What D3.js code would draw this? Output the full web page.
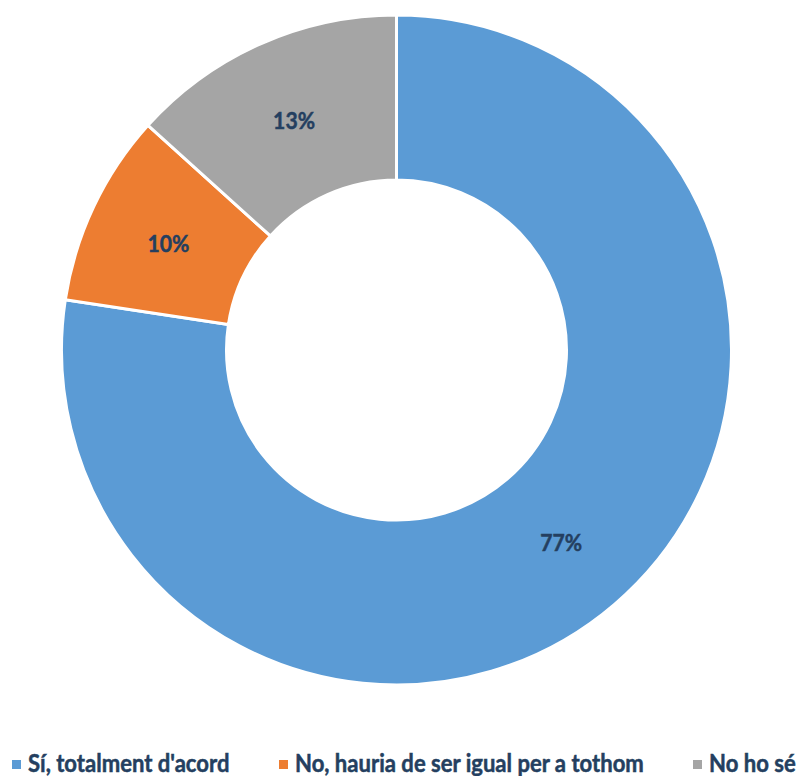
<!DOCTYPE html>
<html><head><meta charset="utf-8">
<script src="https://cdn.jsdelivr.net/npm/d3@7"></script>
<style>body{margin:0;background:#fff}svg{display:block}</style>
</head><body>
<svg id="c" width="800" height="776"></svg>
<script>
const categories = ["Sí, totalment d'acord", "No, hauria de ser igual per a tothom", "No ho sé"];
const values = [77.4, 9.3, 13.3];
const labels = ["77%", "10%", "13%"];
const colors = ["#5B9BD5", "#ED7D31", "#A5A5A5"];

const svg = d3.select("#c");
const cx = 396.5, cy = 350, rOut = 335, rIn = 170;
const textColor = "#243F60";
const font = "Lato, 'Open Sans', sans-serif";

const pie = d3.pie().sort(null).value(d => d)(values);
const arc = d3.arc().innerRadius(rIn).outerRadius(rOut);
const labelArc = d3.arc().innerRadius((rIn + rOut) / 2).outerRadius((rIn + rOut) / 2);

const g = svg.append("g").attr("transform", `translate(${cx},${cy})`);
g.selectAll("path").data(pie).join("path")
  .attr("d", arc)
  .attr("fill", (d, i) => colors[i])
  .attr("stroke", "#fff")
  .attr("stroke-width", 3);

g.selectAll("text").data(pie).join("text")
  .attr("transform", d => { const [x, y] = labelArc.centroid(d); return `translate(${x},${y + 1}) scale(0.9,1)`; })
  .attr("text-anchor", "middle")
  .attr("dominant-baseline", "central")
  .attr("font-family", font)
  .attr("font-weight", 700)
  .attr("font-size", 23.5)
  .attr("fill", textColor)
  .attr("stroke", textColor)
  .attr("stroke-width", 0.5)
  .text((d, i) => labels[i]);

// legend
const legX = [12, 279, 693];
const lg = svg.append("g");
categories.forEach((c, i) => {
  lg.append("rect").attr("x", legX[i]).attr("y", 760).attr("width", 9).attr("height", 9).attr("fill", colors[i]);
  lg.append("text").attr("transform", `translate(${legX[i] + 16},772) scale(0.92,1)`)
    .attr("font-family", font).attr("font-weight", 700).attr("font-size", 24)
    .attr("fill", textColor)
    .attr("stroke", textColor).attr("stroke-width", 0.5)
    .text(c);
});
</script>
</body></html>
